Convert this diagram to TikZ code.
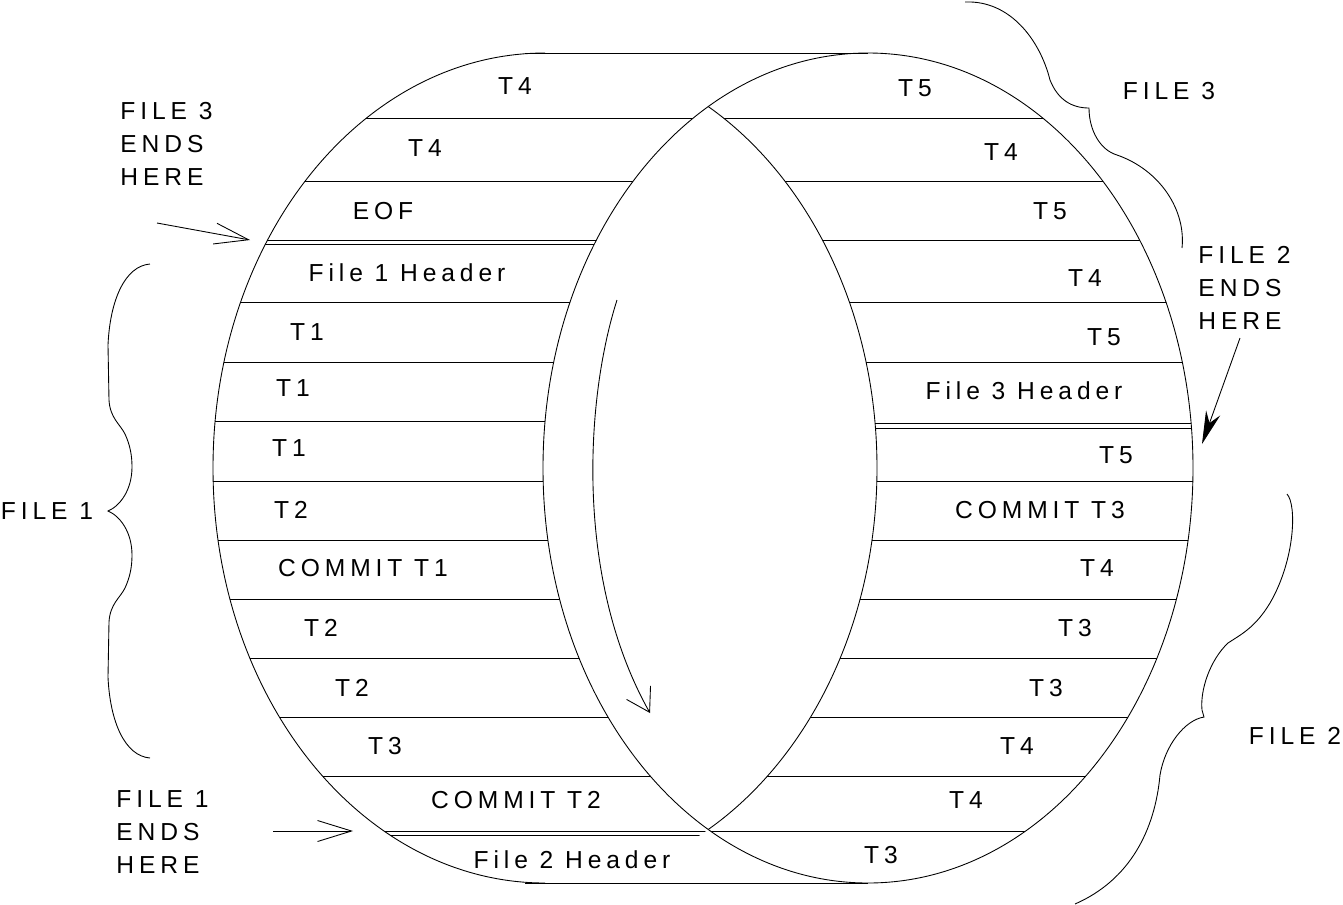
\documentclass[tikz,border=0pt]{standalone}
\usepackage{fontspec}
\setmainfont{Liberation Sans}
\newfontfamily\cadfont[LetterSpace=20]{Liberation Sans}
\usetikzlibrary{arrows.meta}

\begin{document}
\begin{tikzpicture}[x=0.02cm, y=-0.02cm, line width=0.5pt,
    lbl/.style={inner sep=0pt, font=\cadfont\fontsize{14}{19}\selectfont},
    note/.style={lbl, anchor=west, align=left},
    openarrow/.style={-{Straight Barb[length=0.68cm, width=0.42cm]}},
    fillarrow/.style={-{Stealth[length=0.66cm, width=0.3cm]}},
    leftdisk/.style={x radius=332, y radius=415},
    rightdisk/.style={x radius=325, y radius=415}]

    \useasboundingbox (0,0) rectangle (1343,904);

    \coordinate (lc) at (545,468);
    \coordinate (rc) at (868,468);

    % outline of the drum
    \draw (rc) ellipse [rightdisk];
    \begin{scope}
        \clip (0,0) rectangle (545,904);
        \draw (lc) ellipse [leftdisk];
    \end{scope}
    \begin{scope}
        \clip (rc) ellipse [rightdisk];
        \draw (lc) ellipse [leftdisk];
    \end{scope}
    \draw (525,53) -- (868,53);
    \draw (525,883) -- (868,883);

    % record boundaries, left face
    \begin{scope}[even odd rule]
        \clip (lc) ellipse [leftdisk];
        \clip (0,0) rectangle (1343,904) (rc) ellipse [rightdisk];
        \foreach \y in {118,181,240,244,302,362,421,481,540,599,658,717,776,831,835}
            \draw (0,\y) -- (1343,\y);
    \end{scope}

    % record boundaries, right face
    \begin{scope}[even odd rule]
        \clip (rc) ellipse [rightdisk];
        \clip (0,0) rectangle (1343,904) (lc) ellipse [leftdisk];
        \foreach \y in {118,181,240,302,362,423,428,481,540,599,658,717,776,831}
            \draw (0,\y) -- (1343,\y);
    \end{scope}

    % records
    \foreach \px/\py/\txt [count=\i] in {515/86/T4, 425/148/T4, 383/211/EOF,
        407/273/File 1 Header, 307/332/T1, 293/388/T1, 289/448/T1, 291/510/T2,
        363/568/COMMIT T1, 321/628/T2, 352/688/T2, 385/746/T3,
        516/800/COMMIT T2, 572/860/File 2 Header}
        \node [lbl] (left\i) at (\px,\py) {\txt};
    \foreach \px/\py/\txt [count=\i] in {915/88/T5, 1001/152/T4, 1050/211/T5,
        1085/278/T4, 1104/337/T5, 1024/391/File 3 Header, 1116/455/T5,
        1040/510/COMMIT T3, 1097/568/T4, 1075/628/T3, 1046/688/T3,
        1017/746/T4, 966/800/T4, 881/855/T3}
        \node [lbl] (right\i) at (\px,\py) {\txt};

    % notes
    \node [note] (file3end) at (120,144) {FILE 3\\ENDS\\HERE};
    \node [note] (file1end) at (116,832) {FILE 1\\ENDS\\HERE};
    \node [note] (file2end) at (1198,288) {FILE 2\\ENDS\\HERE};
    \node [lbl] (file1) at (47,511) {FILE 1};
    \node [lbl] (file3) at (1169,91) {FILE 3};
    \node [lbl] (file2) at (1295,736) {FILE 2};

    \coordinate (f3from) at (157,223);
    \coordinate (f3to) at (250,240);
    \coordinate (f1from) at (273,831);
    \coordinate (f1to) at (353,831);
    \coordinate (f2from) at (1240,338);
    \coordinate (f2to) at (1202,444);
    \coordinate (turnfrom) at (617,300);
    \coordinate (turnto) at (650,713);

    \draw [openarrow] (f3from) -- (f3to);
    \draw [openarrow] (f1from) -- (f1to);
    \draw [fillarrow] (f2from) -- (f2to);
    \draw [-{Straight Barb[length=0.45cm, width=0.55cm]}]
        (turnfrom) .. controls (585,400) and (575,580) .. (turnto);

    % braces
    \draw (150,264) .. controls (125,266) and (110,300) .. (108,345)
        -- (109,400) .. controls (110,418) and (120,424) .. (125,434)
        .. controls (130,445) and (132,455) .. (132,467)
        .. controls (132,490) and (120,506) .. (108,511)
        .. controls (120,516) and (132,532) .. (132,555)
        .. controls (132,567) and (130,577) .. (125,588)
        .. controls (120,598) and (110,604) .. (109,622)
        -- (108,677) .. controls (110,722) and (125,756) .. (150,758);
    \draw (965,2) .. controls (1010,0) and (1040,40) .. (1050,80)
        .. controls (1058,100) and (1072,108) .. (1089,108)
        .. controls (1089,130) and (1100,150) .. (1117,155)
        .. controls (1160,170) and (1186,210) .. (1182,248);
    \draw (1287,494) .. controls (1297,505) and (1295,560) .. (1270,603)
        .. controls (1255,628) and (1240,635) .. (1228,643)
        .. controls (1210,660) and (1200,690) .. (1202,710)
        -- (1204,717) .. controls (1185,720) and (1165,745) .. (1160,775)
        .. controls (1155,830) and (1130,880) .. (1075,904);
\end{tikzpicture}
\end{document}
